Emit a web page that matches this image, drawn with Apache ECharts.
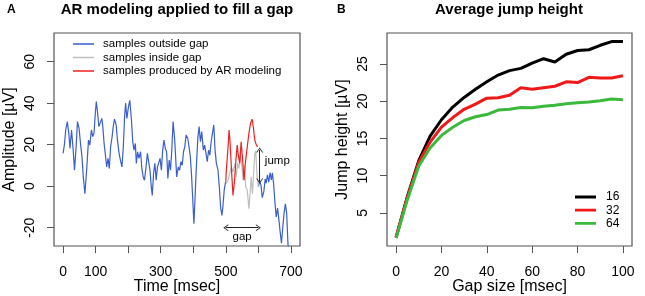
<!DOCTYPE html>
<html><head><meta charset="utf-8">
<script src="https://cdn.jsdelivr.net/npm/echarts@6/dist/echarts.min.js"></script>
<style>html,body{margin:0;padding:0;background:#fff}#c{width:645px;height:296px}</style>
</head><body><div id="c"></div>
<script>
// ---- Panel A: signal (time in msec, amplitude in µV)
const blueTimesBefore = [0,4,8,13,18,21,26,31,35,40,44,49,54,58,62,67,73,78,82,87,91,95,99,102,106,110,115,119,122,126,130,134,138,142,146,150,154,158,163,167,172,177,181,185,189,192,196,201,205,210,214,218,222,225,229,233,238,242,246,250,255,259,263,267,271,274,278,282,286,290,294,298,302,306,310,314,318,322,326,330,334,338,343,349,354,358,362,366,370,374,378,383,387,391,395,399,402,406,410,414,418,422,426,431,435,439,443,447,451,455,459,463,467,471,476,480,484,488,491,495,500];
const blueValuesBefore = [15.8,20,27.1,31.1,24.7,18.2,27.1,17.4,7.7,19.0,31.1,27.9,19.8,14.2,4.5,-3.6,9.3,22.2,19.8,27.1,23.9,25.5,35.2,40.8,35.2,28.7,29.5,32.7,28.7,20.6,15.0,9.3,13.4,8.5,19.0,23.1,28.7,32.3,29.5,22.2,15.8,11.8,9.3,19.0,33.5,40.0,32.7,38.4,41.3,31.9,21.4,17.4,20.6,11.0,16.6,13.4,16.6,8.5,4.5,2.9,9.3,15.8,15.8,7.7,-0.3,-4.4,6.1,11.0,2.9,9.3,10.1,13.4,7.7,17.4,22.2,18.2,16.6,3.7,12.6,7.7,17.4,31.1,22.2,4.5,9.3,7.7,11.8,10.1,16.6,19.0,24.7,23.1,19.0,14.2,4.5,-8.4,-18.1,-3.6,11.0,23.1,28.7,21.4,26.3,17.4,19.8,15.8,11.8,17.4,15.0,21.4,25.5,29.5,17.4,11.0,7.7,-0.3,-10.0,-14.1,-10.0,-2.0,2.9];
const blueTimesAfter = [600,604,608,612,617,621,624,628,632,636,640,643,647,651,655,659,663,667,671,675,679,683,687,691,695];
const blueValuesAfter = [-0.3,2.5,0.5,-5.5,-2.5,3.5,1.5,5.5,2.0,6.5,3.0,6.5,1.0,-8,-14.8,-10.5,-16,-22,-27.5,-20,-13,-8.5,-13,-27.8,-34];
const greyTimes = [500,502,507,512,517,522,528,532,536,540,544,548,553,557,561,566,571,575,578,582,586,589,592,596,600];
const greyValues = [2.9,1.3,2.9,6.1,9.3,6.9,11.0,4.5,11.0,8.5,15.0,12.6,2.9,10.1,-0.3,-2.0,-10.8,-2.8,4.5,-3.6,7.7,15.5,17.0,5.0,-0.3];
const redTimes = [500,502,507,510,513,517,522,527,531,535,539,543,547,551,556,560,566,571,576,581,585,589,594,598];
const redValues = [2.9,8.6,19.0,27.1,21.4,9.3,-4.4,2.9,12.6,19.8,14.2,11.0,21.4,14.2,2.9,11.0,19.0,25.5,30.3,32.3,27.9,22.2,19.8,19.0];
const timeTicks = [0,100,200,300,400,500,600,700];
const timeLabels = [0,100,300,500,700];
const ampTicks = [-20,0,20,40,60];

// ---- Panel B: average jump height vs gap size
const gapSizes = [0,5,10,15,20,25,30,35,40,45,50,55,60,65,70,75,80,85,90,95,100];
const jump16 = [1.7,7.2,12.0,15.3,17.5,19.2,20.5,21.6,22.6,23.5,24.1,24.4,25.1,25.7,25.25,26.3,26.8,26.9,27.5,28.0,28.0];
const jump32 = [1.7,7.1,11.8,14.5,16.5,17.8,18.9,19.6,20.4,20.45,20.8,21.8,21.6,21.8,22.0,22.6,22.5,23.2,23.1,23.1,23.4];
const jump64 = [1.6,6.8,11.3,13.7,15.4,16.5,17.4,17.9,18.2,18.8,18.9,19.15,19.1,19.3,19.45,19.65,19.8,19.9,20.05,20.3,20.2];
const gapTicks = [0,20,40,60,80,100];
const jumpTicks = [5,10,15,20,25];

const zip = (a, b) => a.map((x, i) => [x, b[i]]);
const FONT = 'Liberation Sans, Arial, Helvetica, sans-serif';
const BOX = '#555';
const chevron = 'path://M0,10 L5,0 L10,10 L8.6,10 L5,2.8 L1.4,10 Z';
// legend icon: a thin horizontal bar centred in a 21x12 box
const barThin = 'path://M0,0 L0.01,0 L0.01,0.01 Z M0,5.2 L21,5.2 L21,6.8 L0,6.8 Z M0,12 L0.01,12 L0.01,11.99 Z';
const barThick = 'path://M0,0 L0.01,0 L0.01,0.01 Z M0,4.6 L21,4.6 L21,7.4 L0,7.4 Z M0,12 L0.01,12 L0.01,11.99 Z';

function xAx(idx, min, max, ticks, labels, name) {
  return {
    type: 'value', gridIndex: idx, min: min, max: max, position: 'bottom',
    axisLine: { show: false, onZero: false },
    splitLine: { show: false },
    axisTick: { show: true, inside: false, length: 7, customValues: ticks, lineStyle: { color: BOX, width: 1 } },
    axisLabel: { customValues: labels, color: '#000', fontSize: 14, fontFamily: FONT, margin: 19 },
    name: name, nameLocation: 'middle', nameGap: 33, nameMoveOverlap: false,
    nameTextStyle: { color: '#000', fontSize: 16, fontFamily: FONT }
  };
}
function yAx(idx, min, max, ticks, name) {
  return {
    type: 'value', gridIndex: idx, min: min, max: max, position: 'left',
    axisLine: { show: false, onZero: false },
    splitLine: { show: false },
    axisTick: { show: true, inside: false, length: 7, customValues: ticks, lineStyle: { color: BOX, width: 1 } },
    axisLabel: { customValues: ticks, color: '#000', fontSize: 14, fontFamily: FONT, margin: 17, rotate: 90 },
    name: name, nameLocation: 'middle', nameGap: 36, nameRotate: 90, nameMoveOverlap: false,
    nameTextStyle: { color: '#000', fontSize: 16, fontFamily: FONT }
  };
}

const chart = echarts.init(document.getElementById('c'), null, { renderer: 'canvas' });
chart.setOption({
  backgroundColor: '#fff',
  animation: false,
  textStyle: { fontFamily: FONT },
  title: [
    { text: 'A', left: 7, top: 4, padding: 0, textStyle: { fontSize: 12, fontWeight: 'bold', color: '#000', fontFamily: FONT } },
    { text: 'AR modeling applied to fill a gap', left: 177, top: 2, padding: 0, textAlign: 'center', textStyle: { fontSize: 15, fontWeight: 'bold', color: '#000', fontFamily: FONT } },
    { text: 'B', left: 337, top: 4, padding: 0, textStyle: { fontSize: 12, fontWeight: 'bold', color: '#000', fontFamily: FONT } },
    { text: 'Average jump height', left: 509, top: 2, padding: 0, textAlign: 'center', textStyle: { fontSize: 15, fontWeight: 'bold', color: '#000', fontFamily: FONT } }
  ],
  grid: [
    { left: 54, top: 33, width: 246, height: 213, show: true, borderColor: BOX, borderWidth: 1.2, backgroundColor: 'transparent', outerBoundsMode: 'none', containLabel: false },
    { left: 387, top: 33, width: 245, height: 213, show: true, borderColor: BOX, borderWidth: 1.2, backgroundColor: 'transparent', outerBoundsMode: 'none', containLabel: false }
  ],
  xAxis: [
    xAx(0, -28, 728, timeTicks, timeLabels, 'Time [msec]'),
    xAx(1, -4, 104, gapTicks, gapTicks, 'Gap size [msec]')
  ],
  yAxis: [
    yAx(0, -28.8, 73.8, ampTicks, 'Amplitude [µV]'),
    yAx(1, 0.55, 29.15, jumpTicks, 'Jump height [µV]')
  ],
  legend: [
    {
      left: 73, top: 38, padding: 0, orient: 'vertical', itemWidth: 21, itemHeight: 12, itemGap: 1.5, icon: barThin,
      textStyle: { fontSize: 11.5, color: '#000', fontFamily: FONT, padding: [0, 0, 0, 4] },
      data: ['samples outside gap', 'samples inside gap', 'samples produced by AR modeling']
    },
    {
      left: 575, top: 191, padding: 0, orient: 'vertical', itemWidth: 21, itemHeight: 12, itemGap: 1.2, icon: barThick,
      textStyle: { fontSize: 12, color: '#000', fontFamily: FONT, padding: [0, 0, 0, 5] },
      data: ['16', '32', '64']
    }
  ],
  series: [
    { name: 'samples outside gap', type: 'line', xAxisIndex: 0, yAxisIndex: 0, data: zip(blueTimesBefore, blueValuesBefore), showSymbol: false, symbol: 'none', lineStyle: { color: '#3A5FCD', width: 1.2 }, itemStyle: { color: '#3A5FCD' } },
    { name: 'samples outside gap', type: 'line', xAxisIndex: 0, yAxisIndex: 0, data: zip(blueTimesAfter, blueValuesAfter), showSymbol: false, symbol: 'none', lineStyle: { color: '#3A5FCD', width: 1.2 }, itemStyle: { color: '#3A5FCD' } },
    {
      name: 'samples inside gap', type: 'line', xAxisIndex: 0, yAxisIndex: 0, data: zip(greyTimes, greyValues), showSymbol: false, symbol: 'none', lineStyle: { color: '#BEBEBE', width: 1.2 }, itemStyle: { color: '#BEBEBE' },
      markLine: {
        silent: true, symbol: [chevron, chevron], symbolSize: [7, 5],
        lineStyle: { color: '#222', width: 1, type: 'solid' }, label: { show: false },
        data: [
          [{ coord: [500, -20] }, { coord: [600, -20] }],
          [{ coord: [604, 17.5] }, { coord: [604, 2.5] }]
        ]
      },
      markPoint: {
        silent: true, symbol: 'circle', symbolSize: 0,
        label: { show: true, position: 'inside', formatter: '{b}', color: '#000', fontSize: 11.5, fontFamily: FONT },
        data: [
          { name: 'gap', coord: [550, -24.5], label: { align: 'center' } },
          { name: 'jump', coord: [620, 12.1], label: { align: 'left' } }
        ]
      }
    },
    { name: 'samples produced by AR modeling', type: 'line', xAxisIndex: 0, yAxisIndex: 0, data: zip(redTimes, redValues), showSymbol: false, symbol: 'none', lineStyle: { color: '#F02020', width: 1.2 }, itemStyle: { color: '#F02020' } },
    { name: '16', type: 'line', xAxisIndex: 1, yAxisIndex: 1, data: zip(gapSizes, jump16), showSymbol: false, symbol: 'none', lineStyle: { color: '#000', width: 3 }, itemStyle: { color: '#000' } },
    { name: '32', type: 'line', xAxisIndex: 1, yAxisIndex: 1, data: zip(gapSizes, jump32), showSymbol: false, symbol: 'none', lineStyle: { color: '#F01818', width: 3 }, itemStyle: { color: '#F01818' } },
    { name: '64', type: 'line', xAxisIndex: 1, yAxisIndex: 1, data: zip(gapSizes, jump64), showSymbol: false, symbol: 'none', lineStyle: { color: '#3CB93C', width: 3 }, itemStyle: { color: '#3CB93C' } }
  ]
});
</script>
</body></html>
